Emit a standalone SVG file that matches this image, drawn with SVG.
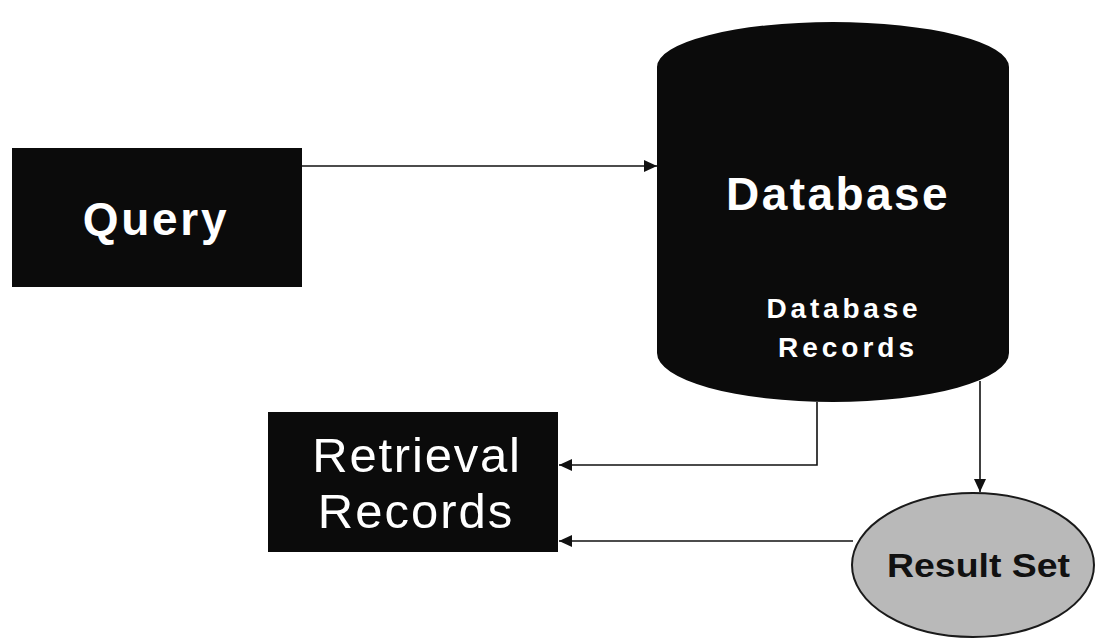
<svg xmlns="http://www.w3.org/2000/svg" width="1097" height="642" viewBox="0 0 1097 642">
  <style>
    .box { fill: #0b0b0b; }
    .wt { fill: #ffffff; font-family: "Liberation Sans", Arial, sans-serif; text-anchor: middle; }
    .conn { fill: none; stroke: #111111; stroke-width: 1.6; }
  </style>
  <defs>
    <marker id="arr" markerUnits="userSpaceOnUse" markerWidth="14" markerHeight="14" viewBox="0 0 14 14" refX="13" refY="7" orient="auto">
      <path d="M0,1 L13,7 L0,13 Z" fill="#111111"/>
    </marker>
  </defs>
  <rect width="1097" height="642" fill="#ffffff"/>

  <g id="query">
    <rect class="box" x="12" y="148" width="290" height="139"/>
    <text class="wt" x="156" y="235" font-size="46" font-weight="bold" letter-spacing="2.7">Query</text>
  </g>

  <g id="database">
    <path class="box" d="M657,67 A176,45 0 0 1 1009,67 L1009,353 A176,49 0 0 1 657,353 Z"/>
    <text class="wt" x="838" y="210" font-size="46" font-weight="bold" letter-spacing="2.4">Database</text>
    <text class="wt" x="844" y="318" font-size="28" font-weight="bold" letter-spacing="3.8">Database</text>
    <text class="wt" x="848" y="357" font-size="28" font-weight="bold" letter-spacing="4">Records</text>
  </g>

  <g id="retrieval">
    <rect class="box" x="268" y="412" width="290" height="140"/>
    <text class="wt" x="417" y="472" font-size="49" letter-spacing="1.8">Retrieval</text>
    <text class="wt" x="416" y="528" font-size="49" letter-spacing="2">Records</text>
  </g>

  <g id="resultset">
    <ellipse cx="973" cy="565" rx="121" ry="72" fill="#b9b9b9" stroke="#1a1a1a" stroke-width="2"/>
    <text x="887" y="577" font-family="Liberation Sans, Arial, sans-serif" font-size="33" font-weight="bold" fill="#111111" textLength="183" lengthAdjust="spacingAndGlyphs">Result Set</text>
  </g>

  <g id="connectors">
    <path class="conn" d="M302,166 H657" marker-end="url(#arr)"/>
    <path class="conn" d="M817,402 V465 H559" marker-end="url(#arr)"/>
    <path class="conn" d="M980,381 V492" marker-end="url(#arr)"/>
    <path class="conn" d="M853,541 H559" marker-end="url(#arr)"/>
  </g>
</svg>
